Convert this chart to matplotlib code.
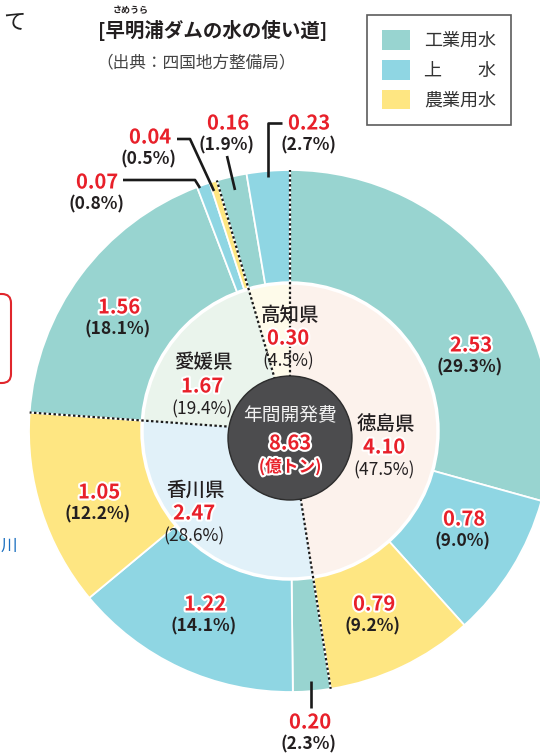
import numpy as np
import matplotlib
matplotlib.use("Agg")
import matplotlib.pyplot as plt
import matplotlib.patheffects as pe
from matplotlib.patches import Patch, Circle, FancyBboxPatch

plt.rcParams['font.family'] = ['Noto Sans CJK JP', 'DejaVu Sans']

# inner ring: prefectures (億トン), clockwise from top
prefs = ["徳島県", "香川県", "愛媛県", "高知県"]
pref_values = ["4.10", "2.47", "1.67", "0.30"]
pref_shares = ["(47.5%)", "(28.6%)", "(19.4%)", "(4.5%)"]

# outer ring: use of water per prefecture, clockwise from top
use_kind = ["工業用水", "上水", "農業用水",
            "工業用水", "上水", "農業用水",
            "工業用水", "上水", "農業用水",
            "工業用水", "上水"]
use_pref = [0, 0, 0, 1, 1, 1, 2, 2, 2, 3, 3]
use_amount = [2.53, 0.78, 0.79, 0.20, 1.22, 1.05, 1.56, 0.07, 0.04, 0.16, 0.23]
use_share = ["(29.3%)", "(9.0%)", "(9.2%)", "(2.3%)", "(14.1%)", "(12.2%)",
             "(18.1%)", "(0.8%)", "(0.5%)", "(1.9%)", "(2.7%)"]
total_label = "8.63"

legend_labels = ["工業用水", "上　　水", "農業用水"]

kind_colors = {"工業用水": "#98d4d0", "上水": "#8fd6e3", "農業用水": "#fee682"}
pref_colors = ["#fcf2ec", "#e1f1f9", "#eaf4ec", "#fefbea"]
RED = "#e8202a"
INK = "#231f20"

fig = plt.figure(figsize=(5.4, 7.56), dpi=100)
ax = fig.add_axes([0, 0, 1, 1])

cx, cy = 290, 431
r_out, r_in, r_dark = 261, 148, 62

# y axis is inverted below, so counterclock=True runs clockwise on screen
ax.pie(use_amount, colors=[kind_colors[k] for k in use_kind], radius=r_out,
       center=(cx, cy), startangle=-90, counterclock=True,
       wedgeprops=dict(width=r_out - r_in, edgecolor="white", linewidth=1.3))

pref_sizes = [sum(a for a, p in zip(use_amount, use_pref) if p == i) for i in range(len(prefs))]
ax.pie(pref_sizes, colors=pref_colors, radius=r_in, center=(cx, cy),
       startangle=-90, counterclock=True, wedgeprops=dict(linewidth=0))
ax.add_patch(Circle((cx, cy), r_in, fill=False, ec="white", lw=2.5, zorder=3))

# dotted prefecture borders
bounds = np.cumsum([0] + pref_sizes[:-1]) / sum(pref_sizes) * 360
for th in np.radians(bounds):
    ax.plot([cx, cx + r_out * np.sin(th)], [cy, cy - r_out * np.cos(th)],
            color="#1a1a1a", lw=1.6, ls=(0, (1.1, 1.1)), zorder=4)

ax.add_patch(Circle((cx, cy + 7), r_dark, fc="#4c4c4e", ec="#2c2c2c", lw=1, zorder=5))

halo = [pe.withStroke(linewidth=3, foreground="white")]


def num(x, y, s, size=14.5):
    ax.text(x, y, s, color=RED, fontsize=size, fontweight="bold", ha="center",
            va="center", path_effects=halo, zorder=7)


def pct(x, y, s, size=12.5, weight="bold"):
    ax.text(x, y, s, color=INK, fontsize=size, fontweight=weight, ha="center",
            va="center", zorder=7)


# outer labels (number, share)
outer_pos = [(471, 345), (464, 519), (374, 604), (310, 722), (205, 604), (99, 492),
             (119, 307), (97, 182), (150, 137), (228, 123), (309, 123)]
for (x, y), a, s in zip(outer_pos, use_amount, use_share):
    num(x, y, f"{a:.2f}")
    pct(x - 1, y + 22, s)

# leader lines
leaders = [
    [(311, 681), (311, 708)],
    [(123, 180), (195, 180), (200, 188)],
    [(177, 139), (190, 139), (214, 191)],
    [(227, 156), (235, 190)],
    [(282, 123), (268, 123), (268, 177)],
]
for pts in leaders:
    xs, ys = zip(*pts)
    ax.plot(xs, ys, color="#1a1a1a", lw=1.9, zorder=6, solid_capstyle="butt")

# inner labels
inner_pos = [(386, 424), (196, 490), (204, 363), (290, 315)]
for (x, y), name, v, s in zip(inner_pos, prefs, pref_values, pref_shares):
    ax.text(x, y, name, color=INK, fontsize=14, fontweight="medium",
            ha="center", va="center", zorder=7)
    num(x - 2, y + 23, v)
    pct(x - 2, y + 46, s, size=12.5, weight="normal")

# centre
ax.text(cx, cy - 15, "年間開発費", color="#f2f2f2", fontsize=13.5, ha="center", va="center", zorder=7)
num(cx, cy + 12, total_label)
num(cx, cy + 36, "(億トン)", size=12)

# title
ax.text(213, 30, "[早明浦ダムの水の使い道]", color=INK, fontsize=14, fontweight="bold",
        ha="center", va="center")
ax.text(131, 11, "さめうら", color=INK, fontsize=6.5, fontweight="bold", ha="center", va="center")
ax.text(196, 63, "（出典：四国地方整備局）", color="#444444", fontsize=12, ha="center", va="center")

handles = [Patch(facecolor=kind_colors[k], edgecolor="none") for k in ["工業用水", "上水", "農業用水"]]
leg = ax.legend(handles, legend_labels, loc="upper left", bbox_to_anchor=(367 / 540, 1 - 15 / 756),
                borderaxespad=0, fontsize=13, frameon=True, fancybox=False,
                edgecolor="#333333", handlelength=1.55, handleheight=1.28,
                handletextpad=0.75, labelspacing=0.55, borderpad=0.85)
leg.get_frame().set_linewidth(1.2)
for t in leg.get_texts():
    t.set_color("#333333")

# bits of the surrounding page
ax.text(14, 22, "て", color="#222222", fontsize=16, ha="center", va="center")
ax.add_patch(FancyBboxPatch((-20, 294), 31, 89, boxstyle="round,pad=0,rounding_size=9",
                            fc="white", ec="#e0262c", lw=1.5))
ax.text(9, 546, "川", color="#1a6fc0", fontsize=12, ha="center", va="center")

ax.set_xlim(0, 540)
ax.set_ylim(756, 0)
ax.set_aspect("auto")
ax.axis("off")

fig.savefig("out.png", dpi=100)
